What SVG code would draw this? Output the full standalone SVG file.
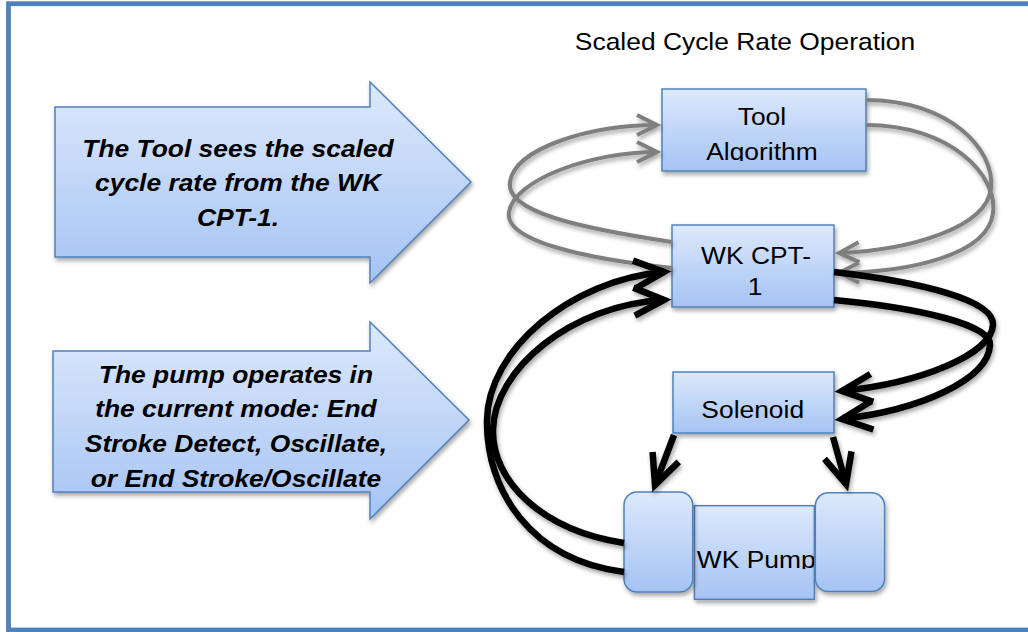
<svg xmlns="http://www.w3.org/2000/svg" width="1028" height="632" viewBox="0 0 1028 632">
<style>
.t{font-family:"Liberation Sans",Arial,sans-serif;font-size:24px;fill:#000}
.c{text-anchor:middle}
.bi{font-weight:bold;font-style:italic}
.box{fill:url(#g);stroke:#4f81bd;stroke-width:1.5}
.gl{fill:none;stroke:#7f7f7f;stroke-width:4;marker-end:url(#ga)}
.bl{fill:none;stroke:#000;stroke-width:6.5;marker-end:url(#ba)}
</style>
<defs>
<linearGradient id="g" x1="0" y1="0" x2="0" y2="1">
<stop offset="0" stop-color="#dde9fc"/>
<stop offset="1" stop-color="#a5c3f3"/>
</linearGradient>
<filter id="sh" x="-20%" y="-20%" width="140%" height="150%">
<feDropShadow dx="1.5" dy="3" stdDeviation="2" flood-color="#000" flood-opacity="0.35"/>
</filter>
<marker id="ga" markerUnits="userSpaceOnUse" markerWidth="40" markerHeight="40" refX="0" refY="0" orient="auto" viewBox="-30 -20 40 40" overflow="visible">
<path d="M-20,-10 L0,0 L-20,10" fill="none" stroke="#7f7f7f" stroke-width="4"/>
</marker>
<marker id="ba" markerUnits="userSpaceOnUse" markerWidth="50" markerHeight="50" refX="0" refY="0" orient="auto" viewBox="-40 -25 50 50" overflow="visible">
<path d="M-30,-14 L0,0 L-30,14" fill="none" stroke="#000" stroke-width="6.5"/>
</marker>
<clipPath id="cTool"><rect x="662" y="89" width="204" height="72"/></clipPath>
<clipPath id="cSol"><rect x="673" y="372" width="161" height="46.5"/></clipPath>
<clipPath id="cPump"><rect x="694" y="506" width="120" height="63"/></clipPath>
</defs>

<rect id="frame" x="8.5" y="3.7" width="1030" height="626.3" fill="#fff" stroke="#4f81bd" stroke-width="4.8"/>

<g id="title">
<g transform="scale(1.1,1)"><text class="t c" x="677.3" y="50">Scaled Cycle Rate Operation</text></g>
</g>

<g id="note1">
<polygon class="box" filter="url(#sh)" points="55,107 370,107 370,82 471,182 370,283 370,257 55,257"/>
<g transform="scale(1.1,1)">
<text class="t c bi" x="216.4" y="157">The Tool sees the scaled</text>
<text class="t c bi" x="216.4" y="191">cycle rate from the WK</text>
<text class="t c bi" x="216.4" y="226">CPT-1.</text>
</g>
</g>

<g id="note2">
<polygon class="box" filter="url(#sh)" points="53,351 370,351 370,322 469,420 370,519 370,492 53,492"/>
<g transform="scale(1.1,1)">
<text class="t c bi" x="214.5" y="383">The pump operates in</text>
<text class="t c bi" x="214.5" y="417">the current mode: End</text>
<text class="t c bi" x="214.5" y="452">Stroke Detect, Oscillate,</text>
<text class="t c bi" x="214.5" y="487">or End Stroke/Oscillate</text>
</g>
</g>

<g id="tool">
<rect class="box" filter="url(#sh)" x="662" y="89" width="204" height="82"/>
<g clip-path="url(#cTool)"><g transform="scale(1.1,1)">
<text class="t c" x="692.7" y="125.5">Tool</text>
<text class="t c" x="692.7" y="160.5">Algorithm</text>
</g></g>
</g>

<g id="cpt">
<rect class="box" filter="url(#sh)" x="672" y="225" width="162" height="82"/>
<g transform="scale(1.1,1)">
<text class="t c" x="687.3" y="264">WK CPT-</text>
<text class="t c" x="686.4" y="295">1</text>
</g>
</g>

<g id="solenoid">
<rect class="box" filter="url(#sh)" x="673" y="372" width="161" height="61"/>
<g clip-path="url(#cSol)"><g transform="scale(1.1,1)">
<text class="t c" x="684.3" y="418">Solenoid</text>
</g></g>
</g>

<g id="pump">
<rect class="box" filter="url(#sh)" x="694.4" y="505.7" width="120" height="93.6"/>
<rect class="box" filter="url(#sh)" x="624" y="492" width="68.7" height="100" rx="13"/>
<rect class="box" filter="url(#sh)" x="815.3" y="492.8" width="69.3" height="98.7" rx="13"/>
<g clip-path="url(#cPump)"><g transform="scale(1.1,1)">
<text class="t" x="633.5" y="568">WK Pump</text>
</g></g>
</g>

<g id="connectors" filter="url(#sh)">
<path class="gl" d="M672,242 C580,228 505,212 510,182 C515,148 590,125 657,125"/>
<path class="gl" d="M672,268 C580,258 504,240 509,212 C514,180 590,152 657,152"/>
<path class="gl" d="M866,100 C950,100 995,150 991,188 C987,228 910,250 839,253"/>
<path class="gl" d="M866,125 C950,125 998,175 993,213 C988,255 910,272 839,273"/>
<path class="bl" d="M624,543 C540,530 492,480 493,430 C494,370 570,305 664,300"/>
<path class="bl" d="M624,572 C530,560 486,490 487,420 C488,350 570,280 664,272"/>
<path class="bl" d="M834,272 C920,282 995,300 993,325 C991,355 920,383 842,391"/>
<path class="bl" d="M834,300 C920,308 992,325 990,345 C988,380 920,410 842,419"/>
<path class="bl" d="M674,435 L655,485"/>
<path class="bl" d="M833,437 L846,484"/>
</g>
</svg>
